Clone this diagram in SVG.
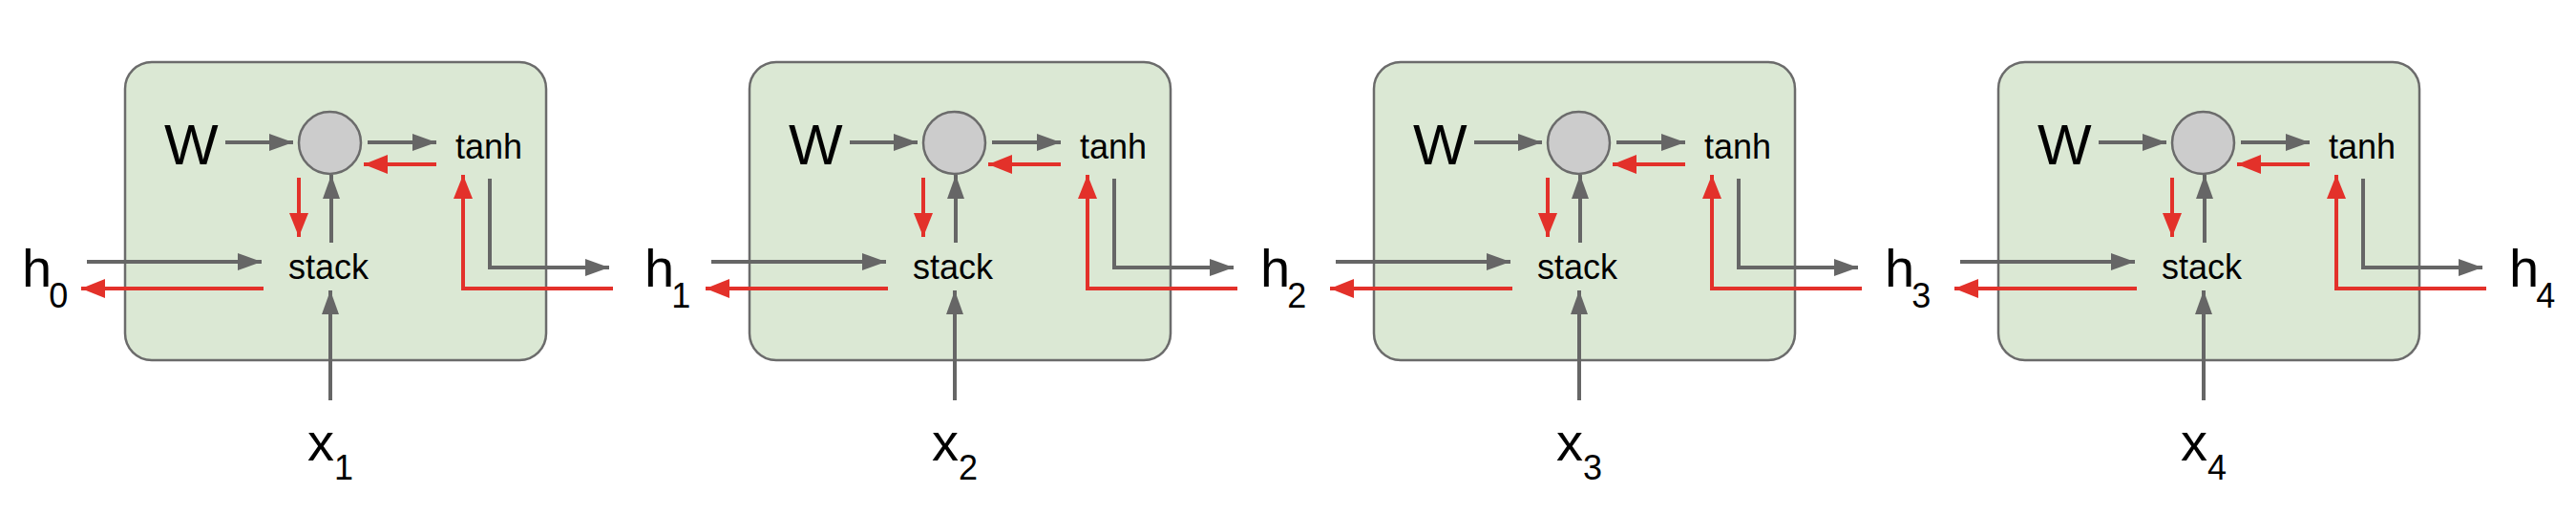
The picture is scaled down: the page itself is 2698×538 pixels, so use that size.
<svg xmlns="http://www.w3.org/2000/svg" width="2698" height="538" viewBox="0 0 2698 538">
<style>
.box{fill:#dbe8d4;stroke:#6b6b6b;stroke-width:2.5}
.node{fill:#cccccc;stroke:#6b6b6b;stroke-width:2.5}
.g{fill:none;stroke:#666666;stroke-width:4;marker-end:url(#ag)}
.r{fill:none;stroke:#e3312a;stroke-width:4;marker-end:url(#ar)}
.t{font-family:"Liberation Sans",Arial,sans-serif;fill:#000}
.big{font-size:56px}
.w{font-size:60px}
.sm{font-size:36px}
.sub{font-size:36px}
</style>
<defs>
<marker id="ag" markerUnits="userSpaceOnUse" markerWidth="26" markerHeight="18" refX="25" refY="9" orient="auto"><path d="M0,0 L25,9 L0,18 z" fill="#666666"/></marker>
<marker id="ar" markerUnits="userSpaceOnUse" markerWidth="26" markerHeight="20" refX="25" refY="10" orient="auto"><path d="M0,0 L25,10 L0,20 z" fill="#e3312a"/></marker>
</defs>
<rect width="2698" height="538" fill="#ffffff"/>
<g id="cell1">
<rect class="box" x="131" y="65" width="441" height="312" rx="28"/>
<text class="t w" x="172" y="172">W</text>
<circle class="node" cx="345.5" cy="149.5" r="32.5"/>
<text class="t sm" x="477" y="166">tanh</text>
<text class="t sm" x="302" y="292">stack</text>
</g>
<g id="cell2" transform="translate(654,0)">
<rect class="box" x="131" y="65" width="441" height="312" rx="28"/>
<text class="t w" x="172" y="172">W</text>
<circle class="node" cx="345.5" cy="149.5" r="32.5"/>
<text class="t sm" x="477" y="166">tanh</text>
<text class="t sm" x="302" y="292">stack</text>
</g>
<g id="cell3" transform="translate(1308,0)">
<rect class="box" x="131" y="65" width="441" height="312" rx="28"/>
<text class="t w" x="172" y="172">W</text>
<circle class="node" cx="345.5" cy="149.5" r="32.5"/>
<text class="t sm" x="477" y="166">tanh</text>
<text class="t sm" x="302" y="292">stack</text>
</g>
<g id="cell4" transform="translate(1962,0)">
<rect class="box" x="131" y="65" width="441" height="312" rx="28"/>
<text class="t w" x="172" y="172">W</text>
<circle class="node" cx="345.5" cy="149.5" r="32.5"/>
<text class="t sm" x="477" y="166">tanh</text>
<text class="t sm" x="302" y="292">stack</text>
</g>
<g id="labels">
<text id="h0" class="t big" x="23" y="300">h<tspan class="sub" dx="-3" dy="22">0</tspan></text>
<text id="h1" class="t big" x="675" y="300">h<tspan class="sub" dx="-3" dy="22">1</tspan></text>
<text id="h2" class="t big" x="1320" y="300">h<tspan class="sub" dx="-3" dy="22">2</tspan></text>
<text id="h3" class="t big" x="1974" y="300">h<tspan class="sub" dx="-3" dy="22">3</tspan></text>
<text id="h4" class="t big" x="2628" y="300">h<tspan class="sub" dx="-3" dy="22">4</tspan></text>
<text id="x1" class="t big" x="322" y="482">x<tspan class="sub" dy="20">1</tspan></text>
<text id="x2" class="t big" x="976" y="482">x<tspan class="sub" dy="20">2</tspan></text>
<text id="x3" class="t big" x="1630" y="482">x<tspan class="sub" dy="20">3</tspan></text>
<text id="x4" class="t big" x="2284" y="482">x<tspan class="sub" dy="20">4</tspan></text>
</g>
<g id="connectors">
<g id="conn1">
<path class="g" d="M236,149 H307"/>
<path class="g" d="M385,149 H457"/>
<path class="r" d="M457,172 H381"/>
<path class="r" d="M313,186 V248"/>
<path class="g" d="M347,254 V183"/>
<path class="g" d="M91,274 H274"/>
<path class="r" d="M276,302 H85"/>
<path class="g" d="M513,187 V280 H638"/>
<path class="r" d="M642,302 H485 V183"/>
<path class="g" d="M346,419 V304"/>
</g>
<g id="conn2" transform="translate(654,0)">
<path class="g" d="M236,149 H307"/>
<path class="g" d="M385,149 H457"/>
<path class="r" d="M457,172 H381"/>
<path class="r" d="M313,186 V248"/>
<path class="g" d="M347,254 V183"/>
<path class="g" d="M91,274 H274"/>
<path class="r" d="M276,302 H85"/>
<path class="g" d="M513,187 V280 H638"/>
<path class="r" d="M642,302 H485 V183"/>
<path class="g" d="M346,419 V304"/>
</g>
<g id="conn3" transform="translate(1308,0)">
<path class="g" d="M236,149 H307"/>
<path class="g" d="M385,149 H457"/>
<path class="r" d="M457,172 H381"/>
<path class="r" d="M313,186 V248"/>
<path class="g" d="M347,254 V183"/>
<path class="g" d="M91,274 H274"/>
<path class="r" d="M276,302 H85"/>
<path class="g" d="M513,187 V280 H638"/>
<path class="r" d="M642,302 H485 V183"/>
<path class="g" d="M346,419 V304"/>
</g>
<g id="conn4" transform="translate(1962,0)">
<path class="g" d="M236,149 H307"/>
<path class="g" d="M385,149 H457"/>
<path class="r" d="M457,172 H381"/>
<path class="r" d="M313,186 V248"/>
<path class="g" d="M347,254 V183"/>
<path class="g" d="M91,274 H274"/>
<path class="r" d="M276,302 H85"/>
<path class="g" d="M513,187 V280 H638"/>
<path class="r" d="M642,302 H485 V183"/>
<path class="g" d="M346,419 V304"/>
</g>
</g>
</svg>
